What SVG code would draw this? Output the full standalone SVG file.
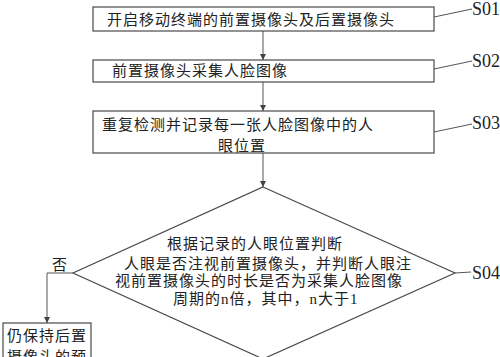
<svg xmlns="http://www.w3.org/2000/svg" width="500" height="357" viewBox="0 0 500 357">
<defs>
<style>
.box{fill:#fff;stroke:#4a4a4a;stroke-width:1.2}
.ln{fill:none;stroke:#555;stroke-width:1}
.t{font-family:"Liberation Serif","Noto Sans CJK SC",serif;font-size:15px;letter-spacing:1px;fill:#222}
.lb{font-family:"Liberation Serif",serif;font-size:18px;fill:#222}
</style>
<marker id="ah" viewBox="0 0 8 8" refX="8" refY="4" markerWidth="6" markerHeight="6" orient="auto" markerUnits="userSpaceOnUse">
<path d="M0,0 L8,4 L0,8 Z" fill="#444"/>
</marker>
</defs>
<rect width="500" height="357" fill="#fff"/>
<g id="connectors">
<line class="ln" x1="263" y1="31" x2="263" y2="60" marker-end="url(#ah)"/>
<line class="ln" x1="263" y1="82" x2="263" y2="111" marker-end="url(#ah)"/>
<line class="ln" x1="263" y1="153" x2="263" y2="187" marker-end="url(#ah)"/>
<polyline class="ln" points="73,273 47,273 47,323" marker-end="url(#ah)"/>
<text class="t" x="52" y="270">否</text>
<line class="ln" x1="434" y1="17" x2="472" y2="9"/>
<line class="ln" x1="434" y1="69" x2="472" y2="61"/>
<line class="ln" x1="434" y1="132" x2="472" y2="124"/>
<line class="ln" x1="455" y1="273" x2="471" y2="272"/>
</g>
<g id="S01">
<rect class="box" x="93" y="7" width="341" height="24"/>
<text class="t" x="107" y="25">开启移动终端的前置摄像头及后置摄像头</text>
<text class="lb" x="472" y="15">S01</text>
</g>
<g id="S02">
<rect class="box" x="93" y="60" width="341" height="22"/>
<text class="t" x="112" y="76">前置摄像头采集人脸图像</text>
<text class="lb" x="472" y="67">S02</text>
</g>
<g id="S03">
<rect class="box" x="93" y="111" width="341" height="42"/>
<text class="t" x="102" y="130">重复检测并记录每一张人脸图像中的人</text>
<text class="t" x="218" y="151">眼位置</text>
<text class="lb" x="472" y="129">S03</text>
</g>
<g id="S04">
<polygon class="box" points="263,187 455,273 263,359 73,273"/>
<text class="t" x="167" y="249">根据记录的人眼位置判断</text>
<text class="t" x="124" y="269">人眼是否注视前置摄像头，并判断人眼注</text>
<text class="t" x="115" y="286">视前置摄像头的时长是否为采集人脸图像</text>
<text class="t" x="173" y="304">周期的n倍，其中，n大于1</text>
<text class="lb" x="472" y="279">S04</text>
</g>
<g id="keep">
<rect class="box" x="3" y="323" width="88" height="60"/>
<text class="t" x="7" y="341">仍保持后置</text>
<text class="t" x="7" y="362">摄像头的预</text>
</g>
</svg>
